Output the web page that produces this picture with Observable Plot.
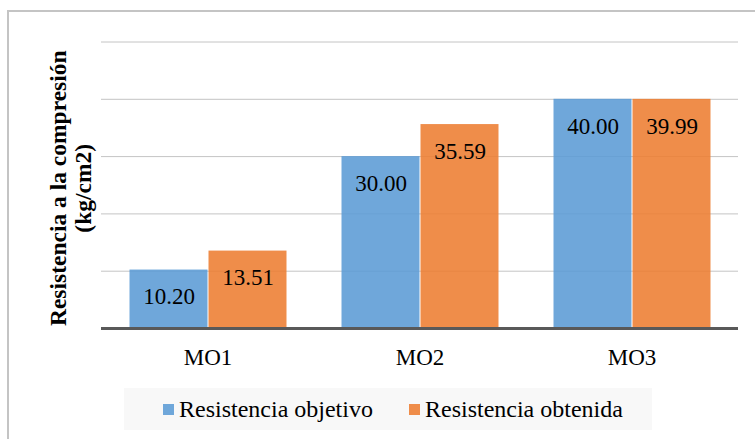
<!DOCTYPE html>
<html>
<head>
<meta charset="utf-8">
<script src="https://cdn.jsdelivr.net/npm/d3@7"></script>
<script src="https://cdn.jsdelivr.net/npm/@observablehq/plot@0.6"></script>
<style>
  html, body { margin: 0; padding: 0; background: #fff; overflow: hidden; }
  #wrap { position: relative; width: 755px; height: 439px; overflow: hidden; font-family: "Liberation Serif", "Times New Roman", serif; }
  .layer { position: absolute; left: 0; top: 0; width: 755px; height: 439px; }
  .layer svg { display: block; }
  #frame { position: absolute; left: 7px; top: 10px; width: 800px; height: 500px; border: 2px solid #c4c4c4; pointer-events: none; z-index: 10; }
  #legend { position: absolute; left: 124px; top: 388px; width: 528px; height: 42px; background: #f8f8f8; display: flex; align-items: center; font-size: 24px; color: #000; }
  .item { display: flex; align-items: center; }
  .sw { width: 11px; height: 11px; margin-right: 5px; }
</style>
</head>
<body>
<div id="wrap">
  <div id="base" class="layer"></div>
  <div id="bars" class="layer"></div>
  <div id="overlay" class="layer"></div>
  <div id="legend"></div>
  <div id="frame"></div>
</div>
<script>
const categories = ["MO1", "MO2", "MO3"];
const seriesNames = ["Resistencia objetivo", "Resistencia obtenida"];
const objetivo = [10.20, 30.00, 40.00];
const obtenida = [13.51, 35.59, 39.99];
const gridTicks = [10, 20, 30, 40, 50];
const colors = ["#5b9bd5", "#ed7d31"];
const yTitle = "Resistencia a la compresión\n(kg/cm2)";

const data = [];
categories.forEach((c, i) => {
  data.push({cat: c, serie: seriesNames[0], value: objetivo[i]});
  data.push({cat: c, serie: seriesNames[1], value: obtenida[i]});
});

const font = "Liberation Serif, Times New Roman, serif";
const common = {
  width: 755,
  height: 439,
  marginLeft: 101,
  marginRight: 17,
  marginTop: 41.5,
  marginBottom: 111,
  style: {fontFamily: font, background: "transparent", color: "#000"},
  y: {domain: [0, 50], axis: null}
};

// Layer 1: gridlines and y-axis title
const basePlot = Plot.plot({
  ...common,
  marks: [
    Plot.ruleY(gridTicks, {stroke: "#c4c4c4", strokeWidth: 1}),
    Plot.text([yTitle], {frameAnchor: "left", textAnchor: "middle", lineAnchor: "middle", rotate: -90, dx: -31, dy: 3, fontSize: 23.5, fontWeight: "bold", lineHeight: 1.07, fill: "#000"})
  ]
});
document.getElementById("base").appendChild(basePlot);

// Layer 2: grouped bars, value labels, category axis
const barsPlot = Plot.plot({
  ...common,
  fx: {domain: categories, paddingInner: 0.25, paddingOuter: 0.125, label: null},
  x: {domain: seriesNames, padding: 0, axis: null},
  color: {domain: seriesNames, range: colors},
  marks: [
    Plot.barY(data, {fx: "cat", x: "serie", y: "value", fill: "serie", fillOpacity: 0.88, insetLeft: 0.5, insetRight: 0.5}),
    Plot.text(data, {fx: "cat", x: "serie", y: "value", text: d => d.value.toFixed(2), dy: 27, fontSize: 23, fill: "#000"}),
    Plot.axisFx({anchor: "bottom", tickSize: 0, tickPadding: 20, fontSize: 23, label: null, fill: "#000"})
  ]
});
document.getElementById("bars").appendChild(barsPlot);

// Layer 3: baseline
const overlayPlot = Plot.plot({
  ...common,
  marks: [
    Plot.ruleY([0], {stroke: "#595959", strokeWidth: 3})
  ]
});
document.getElementById("overlay").appendChild(overlayPlot);

const legend = document.getElementById("legend");
seriesNames.forEach((s, i) => {
  const it = document.createElement("div");
  it.className = "item";
  it.style.marginLeft = i === 0 ? "39px" : "36px";
  const sw = document.createElement("span");
  sw.className = "sw";
  sw.style.background = colors[i];
  sw.style.opacity = 0.88;
  const tx = document.createElement("span");
  tx.textContent = s;
  it.appendChild(sw);
  it.appendChild(tx);
  legend.appendChild(it);
});
</script>
</body>
</html>
